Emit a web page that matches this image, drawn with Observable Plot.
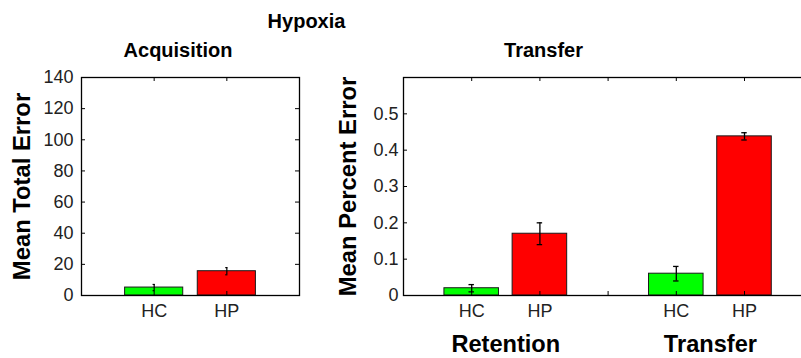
<!DOCTYPE html>
<html>
<head>
<meta charset="utf-8">
<script src="https://cdn.jsdelivr.net/npm/d3@7"></script>
<script src="https://cdn.jsdelivr.net/npm/@observablehq/plot@0.6"></script>
<style>
  body { margin: 0; background: #fff; }
  #fig { position: relative; width: 801px; height: 358px; overflow: hidden; background: #fff;
         font-family: "Liberation Sans", Arial, Helvetica, sans-serif; }
  #fig svg { position: absolute; top: 0; }
  #title { position: absolute; left: 0; top: 11px; width: 613px; text-align: center;
           font-size: 20px; line-height: 20px; font-weight: bold; color: #000; }
</style>
</head>
<body>
<div id="fig"><div id="title">Hypoxia</div></div>
<script>
// Acquisition: mean total error per group
const acqGroups = ["HC", "HP"];
const acqMean = [5.1, 15.6];
const acqErr = [2.0, 2.3];
const acqTicks = [0, 20, 40, 60, 80, 100, 120, 140];

// Retention / transfer tests: mean percent error per group
const testPhases = ["Retention", "Transfer"];
const testGroups = ["HC", "HP"];
const retentionMean = [0.02, 0.17];
const retentionErr = [0.01, 0.03];
const transferMean = [0.06, 0.438];
const transferErr = [0.02, 0.01];
const pctTicks = [0, 0.1, 0.2, 0.3, 0.4, 0.5];

const groupColors = ["#00ff00", "#ff0000"];

const FONT = '"Liberation Sans", Arial, Helvetica, sans-serif';
const H = 358, MT = 77, MB = 63;
const frameH = H - MT - MB;
const TICK = 4;

// ---- left panel: acquisition ----
const acqRows = acqGroups.map((g, i) => ({group: g, pos: i + 1, mean: acqMean[i], err: acqErr[i]}));
const acqPos = acqRows.map(d => d.pos);
const LW = 330, LML = 81, LMR = 31;
const lFrameW = LW - LML - LMR;

const left = Plot.plot({
  width: LW, height: H,
  marginLeft: LML, marginRight: LMR, marginTop: MT, marginBottom: MB,
  style: {fontFamily: FONT, fontSize: "18px", color: "#222", background: "transparent", overflow: "visible"},
  x: {domain: [0, acqGroups.length + 1], axis: null, label: null},
  y: {domain: [0, 140], axis: null, label: null},
  color: {domain: acqGroups, range: groupColors},
  marks: [
    Plot.rectY(acqRows, {x1: d => d.pos - 0.4, x2: d => d.pos + 0.4, y1: 0, y2: "mean", fill: "group", stroke: "#1a1a1a", strokeWidth: 1}),
    Plot.ruleX(acqRows, {x: "pos", y1: d => d.mean - d.err, y2: d => d.mean + d.err, stroke: "#000", strokeWidth: 1.2}),
    Plot.ruleY(acqRows, {y: d => d.mean + d.err, x1: d => d.pos - 0.015, x2: d => d.pos + 0.015, stroke: "#000", strokeWidth: 1.2}),
    Plot.ruleY(acqRows, {y: d => d.mean - d.err, x1: d => d.pos - 0.015, x2: d => d.pos + 0.015, stroke: "#000", strokeWidth: 1.2}),
    // inward ticks on all four sides
    Plot.tickY(acqTicks, {y: d => d, insetRight: lFrameW - TICK, stroke: "#000"}),
    Plot.tickY(acqTicks, {y: d => d, insetLeft: lFrameW - TICK, stroke: "#000"}),
    Plot.tickX(acqPos, {x: d => d, insetBottom: frameH - TICK, stroke: "#000"}),
    Plot.tickX(acqPos, {x: d => d, insetTop: frameH - TICK, stroke: "#000"}),
    Plot.frame({stroke: "#000", strokeWidth: 1.3}),
    Plot.axisY(acqTicks, {anchor: "left", label: null, tickSize: 0, tickPadding: 8, fontSize: 18}),
    Plot.axisX(acqPos, {anchor: "bottom", label: null, tickSize: 0, tickPadding: 9, fontSize: 18, tickFormat: p => acqGroups[p - 1]}),
    Plot.text(["Mean Total Error"], {text: d => d, frameAnchor: "left", dx: -59, rotate: -90, textAnchor: "middle",
      lineAnchor: "middle", fontSize: 23.8, fontWeight: "bold", fill: "#000"}),
    Plot.text(["Acquisition"], {text: d => d, frameAnchor: "top-left", dx: 96.5, dy: -27, textAnchor: "middle",
      lineAnchor: "middle", fontSize: 20, fontWeight: "bold", fill: "#000"})
  ]
});
left.style.left = "0px";

// ---- right panel: retention and transfer ----
const testRows = [];
testPhases.forEach((phase, p) => {
  const means = p === 0 ? retentionMean : transferMean;
  const errs = p === 0 ? retentionErr : transferErr;
  testGroups.forEach((g, i) => {
    testRows.push({phase, group: g, pos: p * 3 + i + 1, mean: means[i], err: errs[i]});
  });
});
const phaseRows = testPhases.map(phase => {
  const ps = testRows.filter(d => d.phase === phase).map(d => d.pos);
  return {phase, pos: d3.mean(ps)};
});
const testTickPos = d3.range(1, testPhases.length * 3);
const RX = 330, RW = 490, RML = 73, RMR = 7.8;
const rFrameW = RW - RML - RMR;

const right = Plot.plot({
  width: RW, height: H,
  marginLeft: RML, marginRight: RMR, marginTop: MT, marginBottom: MB,
  style: {fontFamily: FONT, fontSize: "18px", color: "#222", background: "transparent", overflow: "visible"},
  x: {domain: [0, testPhases.length * 3], axis: null, label: null},
  y: {domain: [0, 0.6], axis: null, label: null},
  color: {domain: testGroups, range: groupColors},
  marks: [
    Plot.rectY(testRows, {x1: d => d.pos - 0.4, x2: d => d.pos + 0.4, y1: 0, y2: "mean", fill: "group", stroke: "#1a1a1a", strokeWidth: 1}),
    Plot.ruleX(testRows, {x: "pos", y1: d => d.mean - d.err, y2: d => d.mean + d.err, stroke: "#000", strokeWidth: 1.3}),
    Plot.ruleY(testRows, {y: d => d.mean + d.err, x1: d => d.pos - 0.04, x2: d => d.pos + 0.04, stroke: "#000", strokeWidth: 1.3}),
    Plot.ruleY(testRows, {y: d => d.mean - d.err, x1: d => d.pos - 0.04, x2: d => d.pos + 0.04, stroke: "#000", strokeWidth: 1.3}),
    Plot.tickY(pctTicks, {y: d => d, insetRight: rFrameW - TICK, stroke: "#000"}),
    Plot.tickY(pctTicks, {y: d => d, insetLeft: rFrameW - TICK, stroke: "#000"}),
    Plot.tickX(testTickPos, {x: d => d, insetBottom: frameH - TICK, stroke: "#000"}),
    Plot.tickX(testTickPos, {x: d => d, insetTop: frameH - TICK, stroke: "#000"}),
    Plot.frame({stroke: "#000", strokeWidth: 1.3}),
    Plot.axisY(pctTicks, {anchor: "left", label: null, tickSize: 0, tickPadding: 5, fontSize: 18, tickFormat: d => d === 0 ? "0" : d3.format(".1f")(d)}),
    Plot.text(testRows, {x: "pos", text: "group", frameAnchor: "bottom", dy: 9, lineAnchor: "top", fontSize: 18, fill: "#222"}),
    Plot.text(phaseRows, {x: "pos", text: "phase", frameAnchor: "bottom", dy: 49, lineAnchor: "middle",
      fontSize: 23.6, fontWeight: "bold", fill: "#000"}),
    Plot.text(["Mean Percent Error"], {text: d => d, frameAnchor: "left", dx: -55.5, rotate: -90, textAnchor: "middle",
      lineAnchor: "middle", fontSize: 23.8, fontWeight: "bold", fill: "#000"}),
    Plot.text(["Transfer"], {text: d => d, frameAnchor: "top-left", dx: 140, dy: -27, textAnchor: "middle",
      lineAnchor: "middle", fontSize: 20, fontWeight: "bold", fill: "#000"})
  ]
});
right.style.left = RX + "px";

const fig = document.getElementById("fig");
fig.insertBefore(right, fig.firstChild);
fig.insertBefore(left, fig.firstChild);
</script>
</body>
</html>
